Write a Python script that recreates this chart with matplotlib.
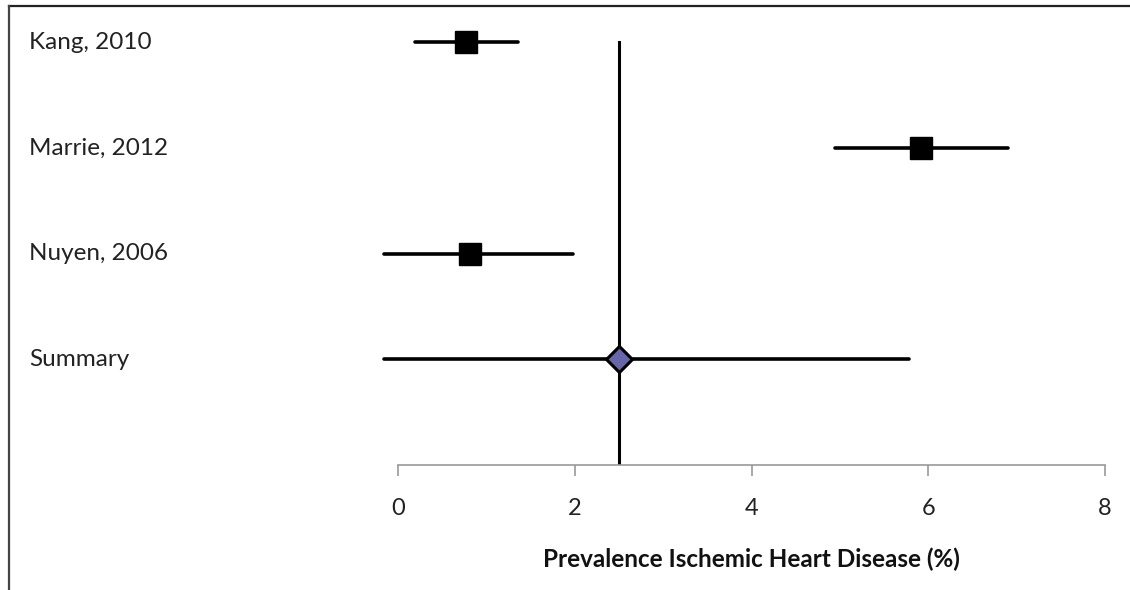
import matplotlib.pyplot as plt
import matplotlib.transforms as mtransforms
from matplotlib.lines import Line2D

# Study estimates (prevalence %)
studies = ['Kang, 2010', 'Marrie, 2012', 'Nuyen, 2006', 'Summary']
estimate = [0.77, 5.92, 0.82, 2.50]
lower = [0.19, 4.94, -0.16, -0.16]
upper = [1.36, 6.90, 1.98, 5.78]
rows = [4, 3, 2, 1]
xticks = [0, 2, 4, 6, 8]

plt.rcParams['font.family'] = ['Lato', 'DejaVu Sans']

fig = plt.figure(figsize=(11.3, 5.9), dpi=100)
ax = fig.add_axes([0.3522, 0.2119, 0.6257, 0.7700])

# reference line at the summary estimate
ax.plot([estimate[-1], estimate[-1]], [0, rows[0]], color='black', lw=2.2, zorder=2)

for i, name in enumerate(studies):
    ax.plot([lower[i], upper[i]], [rows[i], rows[i]], color='black', lw=2.6,
            solid_capstyle='round', zorder=3, clip_on=False)
    if name == 'Summary':
        ax.plot(estimate[i], rows[i], marker='D', ms=13, mfc='#6666a8', mec='black',
                mew=2.2, zorder=4, clip_on=False)
    else:
        ax.plot(estimate[i], rows[i], marker='s', ms=16, mfc='black', mec='black',
                zorder=4, clip_on=False)

trans = mtransforms.blended_transform_factory(fig.transFigure, ax.transData)
for i, name in enumerate(studies):
    ax.text(0.026, rows[i], name, transform=trans, ha='left', va='center',
            fontsize=17.5, color='#222222')

ax.set_xlim(0, 8)
ax.set_ylim(0, 4.3)
ax.set_xticks(xticks)
ax.set_xticklabels([str(t) for t in xticks], fontsize=17, color='#222222')
ax.set_yticks([])
for side in ['top', 'right', 'left']:
    ax.spines[side].set_visible(False)
ax.spines['bottom'].set_color('#999999')
ax.spines['bottom'].set_linewidth(1.2)
ax.tick_params(axis='x', direction='out', length=8, width=1.2, color='#999999', pad=16)
ax.set_xlabel('Prevalence Ischemic Heart Disease (%)', fontsize=17.5, fontweight='bold',
              labelpad=20, color='#111111')

# image frame: top and left edges only
fig.add_artist(Line2D([0.008, 1.0], [0.990, 0.990], transform=fig.transFigure,
                      color='#222222', lw=1.6))
fig.add_artist(Line2D([0.008, 0.008], [0.0, 0.990], transform=fig.transFigure,
                      color='#444444', lw=1.6))

fig.savefig('out.png', dpi=100)
